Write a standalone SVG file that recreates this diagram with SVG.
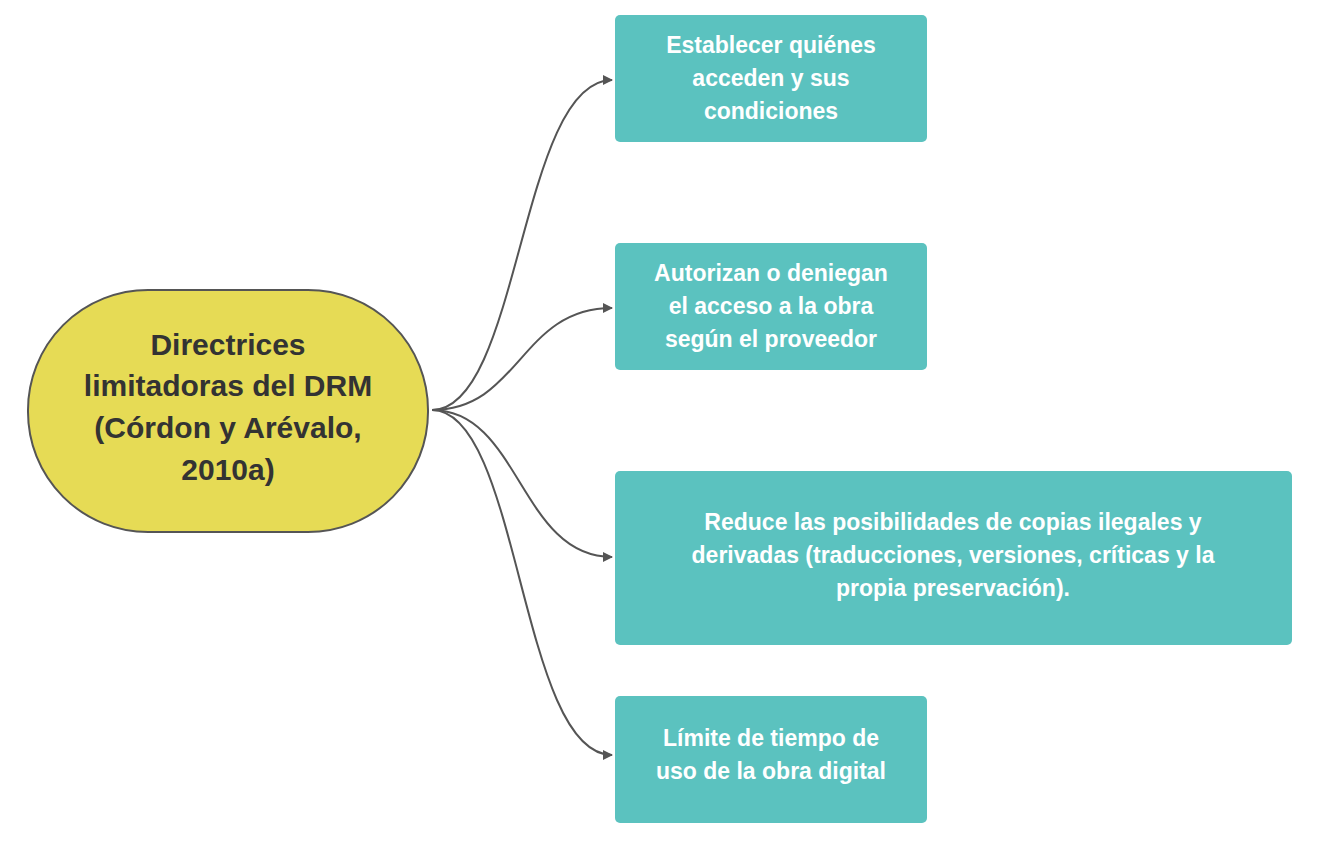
<svg xmlns="http://www.w3.org/2000/svg" width="1319" height="850" viewBox="0 0 1319 850">
<defs>
<style>
.box{fill:#5bc2bf}
.t{font-family:"Liberation Sans",Arial,sans-serif;font-weight:bold;fill:#fff;font-size:23px;text-anchor:middle}
.c{fill:none;stroke:#555;stroke-width:2}
.m{font-family:"Liberation Sans",Arial,sans-serif;font-weight:bold;fill:#333;font-size:30px;text-anchor:middle}
</style>
<marker id="a" markerWidth="10" markerHeight="10" refX="9" refY="5" orient="auto" markerUnits="userSpaceOnUse"><path d="M0,0L10,5L0,10z" fill="#555"/></marker>
</defs>
<rect width="1319" height="850" fill="#fff"/>
<g id="connectors">
<path class="c" marker-end="url(#a)" d="M432,410C520,410 520,80 612,80"/>
<path class="c" marker-end="url(#a)" d="M432,410C520,410 520,308 612,308"/>
<path class="c" marker-end="url(#a)" d="M432,410C520,410 520,557 612,557"/>
<path class="c" marker-end="url(#a)" d="M432,410C520,410 520,755 612,755"/>
</g>
<g id="center"><rect x="28" y="290" width="400" height="242" rx="120" fill="#e6db55" stroke="#555" stroke-width="2"/>
<text class="m" x="228" y="355">Directrices</text><text class="m" x="228" y="396">limitadoras del DRM</text><text class="m" x="228" y="438">(Córdon y Arévalo,</text><text class="m" x="228" y="480">2010a)</text></g>
<g id="n1"><rect class="box" x="615" y="15" width="312" height="127" rx="5"/><text class="t" x="771" y="53">Establecer quiénes</text><text class="t" x="771" y="86">acceden y sus</text><text class="t" x="771" y="119">condiciones</text></g>
<g id="n2"><rect class="box" x="615" y="243" width="312" height="127" rx="5"/><text class="t" x="771" y="281">Autorizan o deniegan</text><text class="t" x="771" y="314">el acceso a la obra</text><text class="t" x="771" y="347">según el proveedor</text></g>
<g id="n3"><rect class="box" x="615" y="471" width="677" height="174" rx="5"/><text class="t" x="953" y="530">Reduce las posibilidades de copias ilegales y</text><text class="t" x="953" y="563">derivadas (traducciones, versiones, críticas y la</text><text class="t" x="953" y="596">propia preservación).</text></g>
<g id="n4"><rect class="box" x="615" y="696" width="312" height="127" rx="5"/><text class="t" x="771" y="746">Límite de tiempo de</text><text class="t" x="771" y="779">uso de la obra digital</text></g>
</svg>
